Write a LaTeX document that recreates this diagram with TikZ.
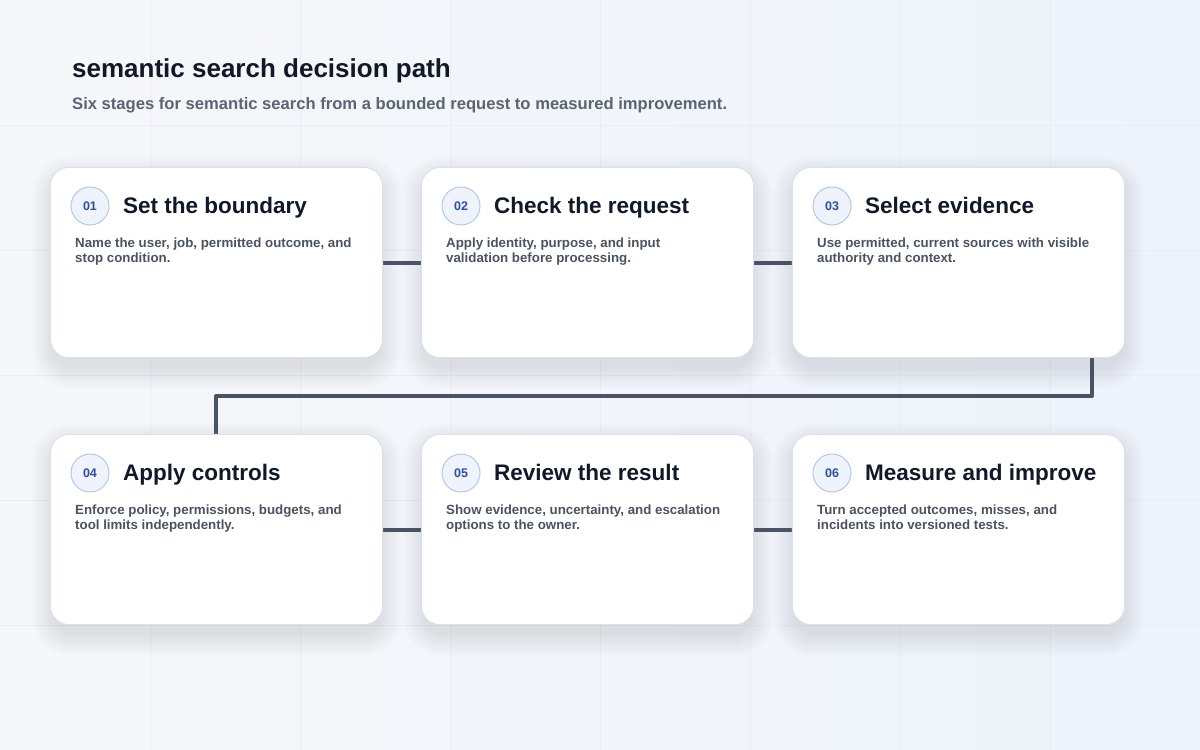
\documentclass[tikz,border=0pt]{standalone}
\usepackage{fontspec}
\setmainfont{Liberation Sans}
\definecolor{bgA}{HTML}{F6F7FA}
\definecolor{bgB}{HTML}{EEF3FB}
\definecolor{gridc}{HTML}{EAEEF4}
\definecolor{cardline}{HTML}{DCE1E9}
\definecolor{ink}{HTML}{111827}
\definecolor{subink}{HTML}{5B6472}
\definecolor{descink}{HTML}{4B5260}
\definecolor{conn}{HTML}{4A5263}
\definecolor{badgefill}{HTML}{EEF3FC}
\definecolor{badgeline}{HTML}{B8C7E6}
\definecolor{badgeink}{HTML}{2E4E9E}
\definecolor{shadowc}{HTML}{1E2A45}
\tikzset{
  card/.style={minimum width=332pt, minimum height=190pt, inner sep=0pt},
  cardface/.style={draw=cardline, line width=1pt, fill=white, rounded corners=19pt},
  badge/.style={circle, draw=badgeline, line width=1pt, fill=badgefill, minimum size=38pt, inner sep=0pt,
    text=badgeink, font=\bfseries\fontsize{12.5}{14}\selectfont},
  cardtitle/.style={anchor=base west, text=ink, font=\bfseries\fontsize{22.5}{26}\selectfont, inner sep=0pt},
  carddesc/.style={anchor=base west, text=descink, font=\bfseries\fontsize{13.3}{15}\selectfont, align=left, inner sep=0pt},
  link/.style={draw=conn, line width=4pt},
}
\begin{document}
\begin{tikzpicture}[x=1pt,y=-1pt]
\useasboundingbox (0,0) rectangle (1200,750);
\shade[left color=bgA, right color=bgB] (0,0) rectangle (1200,750);
\foreach \gx in {150,300,...,1050} \draw[gridc, line width=0.8pt] (\gx,0) -- (\gx,750);
\foreach \gy in {125,250,...,625} \draw[gridc, line width=0.8pt] (0,\gy) -- (1200,\gy);

\node[anchor=base west, inner sep=0pt, text=ink, font=\bfseries\fontsize{26}{30}\selectfont] (title) at (72,77) {semantic search decision path};
\node[anchor=base west, inner sep=0pt, text=subink, font=\bfseries\fontsize{16.6}{20}\selectfont] (subtitle) at (72,109) {Six stages for semantic search from a bounded request to measured improvement.};

% cards (placeholders for geometry)
\node[card] (c1) at (216.5,262.5) {};
\node[card] (c2) at (587.5,262.5) {};
\node[card] (c3) at (958.5,262.5) {};
\node[card] (c4) at (216.5,529.5) {};
\node[card] (c5) at (587.5,529.5) {};
\node[card] (c6) at (958.5,529.5) {};

% soft shadows
\foreach \n in {c1,c2,c3,c4,c5,c6}
  \foreach \s in {2,4,...,24}
    \fill[shadowc, opacity=0.007, rounded corners=18pt+\s pt]
      ([xshift=-\s pt+4pt, yshift=\s pt-4pt-8pt]\n.north west) rectangle ([xshift=\s pt-4pt, yshift=-\s pt-8pt]\n.south east);

% connectors
\coordinate (bendA) at (1092,396);
\coordinate (bendB) at (216,396);
\draw[link] (c1.east) -- (c2.west);
\draw[link] (c2.east) -- (c3.west);
\draw[link, line join=round] (c3.south -| bendA) -- (bendA) -- (bendB) -- (c4.north -| bendB);
\draw[link] (c4.east) -- (c5.west);
\draw[link] (c5.east) -- (c6.west);

% card faces
\foreach \n in {c1,c2,c3,c4,c5,c6}
  \draw[cardface] (\n.north west) rectangle (\n.south east);

% card contents
\node[badge] (b1) at (90,206) {01};
\node[cardtitle] (t1) at (123,213) {Set the boundary};
\node[carddesc] (d1) at (75,262) {Name the user, job, permitted outcome, and\\stop condition.};

\node[badge] (b2) at (461,206) {02};
\node[cardtitle] (t2) at (494,213) {Check the request};
\node[carddesc] (d2) at (446,262) {Apply identity, purpose, and input\\validation before processing.};

\node[badge] (b3) at (832,206) {03};
\node[cardtitle] (t3) at (865,213) {Select evidence};
\node[carddesc] (d3) at (817,262) {Use permitted, current sources with visible\\authority and context.};

\node[badge] (b4) at (90,473) {04};
\node[cardtitle] (t4) at (123,480) {Apply controls};
\node[carddesc] (d4) at (75,529) {Enforce policy, permissions, budgets, and\\tool limits independently.};

\node[badge] (b5) at (461,473) {05};
\node[cardtitle] (t5) at (494,480) {Review the result};
\node[carddesc] (d5) at (446,529) {Show evidence, uncertainty, and escalation\\options to the owner.};

\node[badge] (b6) at (832,473) {06};
\node[cardtitle] (t6) at (865,480) {Measure and improve};
\node[carddesc] (d6) at (817,529) {Turn accepted outcomes, misses, and\\incidents into versioned tests.};
\end{tikzpicture}
\end{document}
